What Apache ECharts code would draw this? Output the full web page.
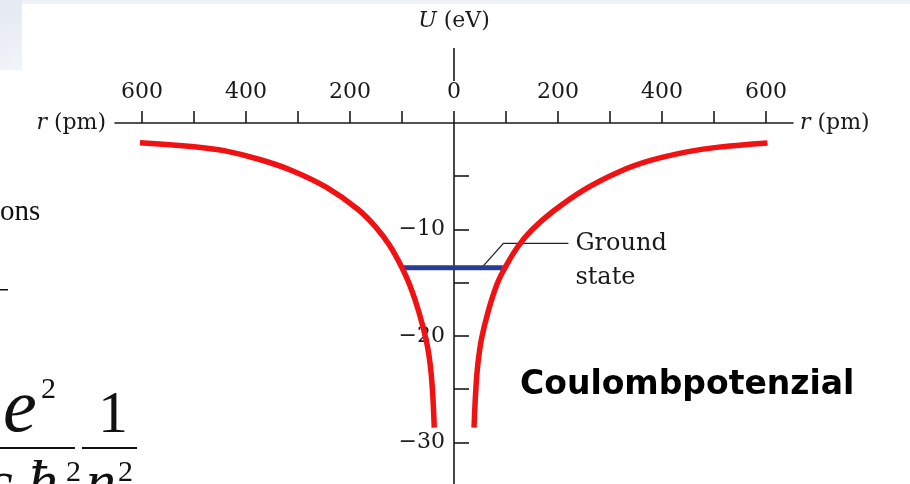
<!DOCTYPE html>
<html>
<head>
<meta charset="utf-8">
<script src="https://cdn.jsdelivr.net/npm/echarts@6/dist/echarts.min.js"></script>
<style>
  html, body { margin: 0; padding: 0; background: #fff; }
  #chart { width: 910px; height: 484px; }
</style>
</head>
<body>
<div id="chart"></div>
<script>
// Coulomb potential U(r) of the hydrogen atom, both sides of the nucleus
const leftR  = [-604, -500, -440, -372, -310, -245, -185, -150, -124, -100, -84, -68, -53, -46, -41.5, -38];
const leftU  = [-1.85, -2.22, -2.62, -3.45, -4.5, -6.05, -8.1, -9.8, -11.49, -13.6, -15.36, -17.68, -20.5, -22.6, -25.0, -28.6];
const rightR = [38.5, 42, 46, 53, 66, 83, 98, 123, 150, 190, 250, 318, 378, 448, 505, 603];
const rightU = [-28.6, -25.0, -22.6, -20.25, -17.65, -15.1, -13.6, -11.6, -10.03, -8.31, -6.27, -4.57, -3.52, -2.715, -2.29, -1.88];

// ground state level and its leader line
const groundR = [-98, 94];
const groundU = [-13.6, -13.6];
const leaderR = [53, 95, 220];
const leaderU = [-13.6, -11.3, -11.3];

// axis ticks and labels
const rTicks  = [-600, -500, -400, -300, -200, -100, 0, 100, 200, 300, 400, 500, 600];
const rLabels = [-600, -400, -200, 0, 200, 400, 600];
const uTicks  = [-30, -25, -20, -15, -10, -5];
const uLabels = [-30, -20, -10];

const zip = (a, b) => a.map((v, i) => [v, b[i]]);

const serif = 'DejaVu Serif';
const ink = '#1a1a1a';
const italic = { fontFamily: serif, fontStyle: 'italic', fontSize: 22, color: ink };
const nameStyle = { fontFamily: serif, fontSize: 22, color: ink, rich: { i: italic } };

const gridLeft = 115, gridWidth = 678;

const chart = echarts.init(document.getElementById('chart'));
chart.setOption({
  animation: false,
  backgroundColor: '#fff',
  title: {
    text: 'Coulombpotenzial',
    left: 515, top: 364,
    textStyle: { fontFamily: 'DejaVu Sans', fontWeight: 'bold', fontSize: 33, color: '#000' }
  },
  grid: { left: gridLeft, width: gridWidth, top: 123, bottom: 0, containLabel: false, outerBoundsMode: 'none' },
  xAxis: [{
    type: 'value', position: 'top', min: -652, max: 652,
    name: '{i|r} (pm)', nameLocation: 'start', nameGap: 9, nameTextStyle: nameStyle,
    axisLine: { onZero: false, lineStyle: { color: ink, width: 1.6 } },
    axisTick: { customValues: rTicks, length: 12, lineStyle: { color: ink, width: 1.6 } },
    axisLabel: {
      customValues: rLabels, margin: 20,
      fontFamily: serif, fontSize: 22, color: ink,
      formatter: v => String(Math.abs(v))
    },
    splitLine: { show: false }
  }, {
    type: 'value', position: 'top', min: -652, max: 652,
    name: '{i|r} (pm)', nameLocation: 'end', nameGap: 7, nameTextStyle: nameStyle,
    axisLine: { show: false, onZero: false },
    axisTick: { show: false }, axisLabel: { show: false }, splitLine: { show: false }
  }],
  yAxis: {
    type: 'value', min: -33.9, max: 0, position: 'left', offset: -gridWidth / 2,
    // axis title with the short upper stub of the vertical axis under it
    name: '{i|U} (eV)\n{sp| }\n{bar| }', nameLocation: 'end', nameGap: 38,
    nameTextStyle: {
      fontFamily: serif, fontSize: 22, color: ink, lineHeight: 26, align: 'center', verticalAlign: 'bottom',
      rich: {
        i: Object.assign({ lineHeight: 26 }, italic),
        sp: { fontSize: 2, lineHeight: 14 },
        bar: { fontSize: 2, width: 1.6, height: 33, lineHeight: 33, backgroundColor: ink }
      }
    },
    axisLine: { show: true, onZero: false, lineStyle: { color: ink, width: 1.6 } },
    axisTick: { customValues: uTicks, inside: true, length: 15, lineStyle: { color: ink, width: 1.6 } },
    axisLabel: {
      customValues: uLabels, margin: 9, padding: [7, 0, 0, 0],
      fontFamily: serif, fontSize: 22, color: ink,
      formatter: v => '\u2212' + Math.abs(v)
    },
    splitLine: { show: false }
  },
  series: [{
    name: 'leader', type: 'line', data: zip(leaderR, leaderU),
    showSymbol: false, symbol: 'none', silent: true, z: 1,
    lineStyle: { color: '#222', width: 1.3 },
    endLabel: {
      show: true, formatter: 'Ground\nstate', distance: 7,
      fontFamily: serif, fontSize: 24, lineHeight: 34, color: ink,
      align: 'left', verticalAlign: 'top', offset: [0, -17]
    }
  }, {
    name: 'ground', type: 'line', data: zip(groundR, groundU),
    showSymbol: false, symbol: 'none', z: 2,
    lineStyle: { color: '#283c96', width: 5, cap: 'butt' }
  }, {
    name: 'U left', type: 'line', data: zip(leftR, leftU), smooth: 0.4,
    showSymbol: false, symbol: 'none', z: 3,
    lineStyle: { color: '#f01212', width: 5.5, cap: 'butt' }
  }, {
    name: 'U right', type: 'line', data: zip(rightR, rightU), smooth: 0.4,
    showSymbol: false, symbol: 'none', z: 3,
    lineStyle: { color: '#f01212', width: 5.5, cap: 'butt' }
  }],
  graphic: [
    // slide background pieces
    { type: 'rect', left: 0, top: 0, shape: { width: 910, height: 4 }, style: { fill: '#eef1f6' }, z: -1 },
    { type: 'rect', left: 0, top: 0, shape: { width: 22, height: 70 },
      style: { fill: new echarts.graphic.LinearGradient(0, 0, 1, 1, [{ offset: 0, color: '#e4e9f2' }, { offset: 1, color: '#f1f4f8' }]) }, z: -1 },
    { type: 'text', left: 0, top: 198, style: { text: 'ons', font: '29px "Liberation Serif"', fill: '#111' } },
    { type: 'rect', left: 0, top: 289, shape: { width: 8, height: 1.5 }, style: { fill: '#111' } },
    // fragment of the energy formula on the slide
    { type: 'text', left: 3, top: 373, style: { text: 'e', font: 'italic 76px "Liberation Serif"', fill: '#111' } },
    { type: 'text', left: 41, top: 375, style: { text: '2', font: '30px "Liberation Serif"', fill: '#111' } },
    { type: 'rect', left: 0, top: 447, shape: { width: 75, height: 2 }, style: { fill: '#111' } },
    { type: 'text', left: 98, top: 386, style: { text: '1', font: '60px "Liberation Serif"', fill: '#111' } },
    { type: 'rect', left: 82, top: 447, shape: { width: 55, height: 2 }, style: { fill: '#111' } },
    { type: 'text', left: -14, top: 455, style: { text: 'c', font: 'italic 60px "Liberation Serif"', fill: '#111' } },
    { type: 'text', left: 28, top: 455, style: { text: '\u0127', font: 'italic 60px "Liberation Serif"', fill: '#111' } },
    { type: 'text', left: 66, top: 458, style: { text: '2', font: '30px "Liberation Serif"', fill: '#111' } },
    { type: 'text', left: 86, top: 455, style: { text: 'n', font: 'italic 60px "Liberation Serif"', fill: '#111' } },
    { type: 'text', left: 118, top: 458, style: { text: '2', font: '30px "Liberation Serif"', fill: '#111' } }
  ]
});
</script>
</body>
</html>
